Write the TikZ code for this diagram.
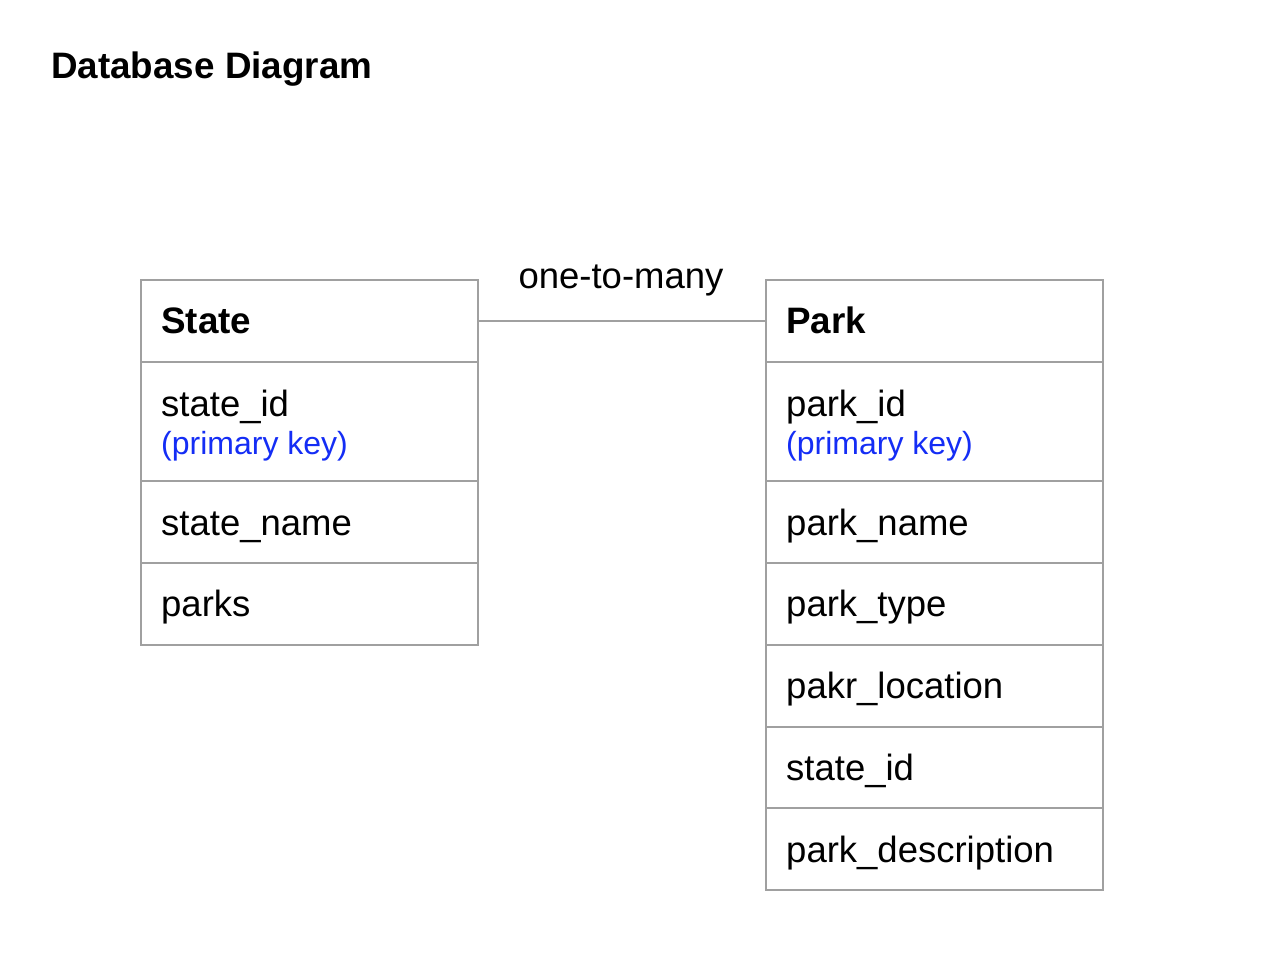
\documentclass[tikz,border=0pt]{standalone}
\usepackage{fontspec}
\setmainfont{Liberation Sans}
\definecolor{linegray}{RGB}{160,160,160}
\definecolor{keyblue}{RGB}{20,45,245}
\begin{document}
\begin{tikzpicture}[x=1pt,y=-1pt,
  rowbox/.style={draw=linegray, line width=2pt, minimum width=337pt, inner sep=0pt, outer sep=0pt, anchor=north west},
  txt/.style={anchor=base west, inner sep=0pt, font=\fontsize{36.5}{40}\selectfont},
  hdr/.style={txt, font=\fontsize{36.8}{40}\selectfont\bfseries},
  keytxt/.style={txt, text=keyblue, font=\fontsize{32}{36}\selectfont},
  conn/.style={draw=linegray, line width=2pt}]
\useasboundingbox (0,0) rectangle (1264,954);
% title
\node[hdr] (title) at (51,78) {Database Diagram};
% State table
\node[rowbox, minimum height=82pt]  (sh) at (141,280) {};
\node[rowbox, minimum height=119pt] (s1) at (141,362) {};
\node[rowbox, minimum height=82pt]  (s2) at (141,481) {};
\node[rowbox, minimum height=82pt]  (s3) at (141,563) {};
\node[hdr] (sht) at (161,333) {State};
\node[txt] (s1t) at (161,416) {state\_id};
\node[keytxt] (s1k) at (161,454) {(primary key)};
\node[txt] (s2t) at (161,535) {state\_name};
\node[txt] (s3t) at (161,616) {parks};
% Park table
\node[rowbox, minimum height=82pt]  (ph) at (766,280) {};
\node[rowbox, minimum height=119pt] (p1) at (766,362) {};
\node[rowbox, minimum height=82pt]  (p2) at (766,481) {};
\node[rowbox, minimum height=82pt]  (p3) at (766,563) {};
\node[rowbox, minimum height=82pt]  (p4) at (766,645) {};
\node[rowbox, minimum height=81pt]  (p5) at (766,727) {};
\node[rowbox, minimum height=82pt]  (p6) at (766,808) {};
\node[hdr] (pht) at (786,333) {Park};
\node[txt] (p1t) at (786,416) {park\_id};
\node[keytxt] (p1k) at (786,454) {(primary key)};
\node[txt] (p2t) at (786,535) {park\_name};
\node[txt] (p3t) at (786,616) {park\_type};
\node[txt] (p4t) at (786,698) {pakr\_location};
\node[txt] (p5t) at (786,780) {state\_id};
\node[txt] (p6t) at (786,862) {park\_description};
% connector
\draw[conn] (sh.east) -- (ph.west);
\node[txt, anchor=base] (rel) at (621,288) {one-to-many};
\end{tikzpicture}
\end{document}
